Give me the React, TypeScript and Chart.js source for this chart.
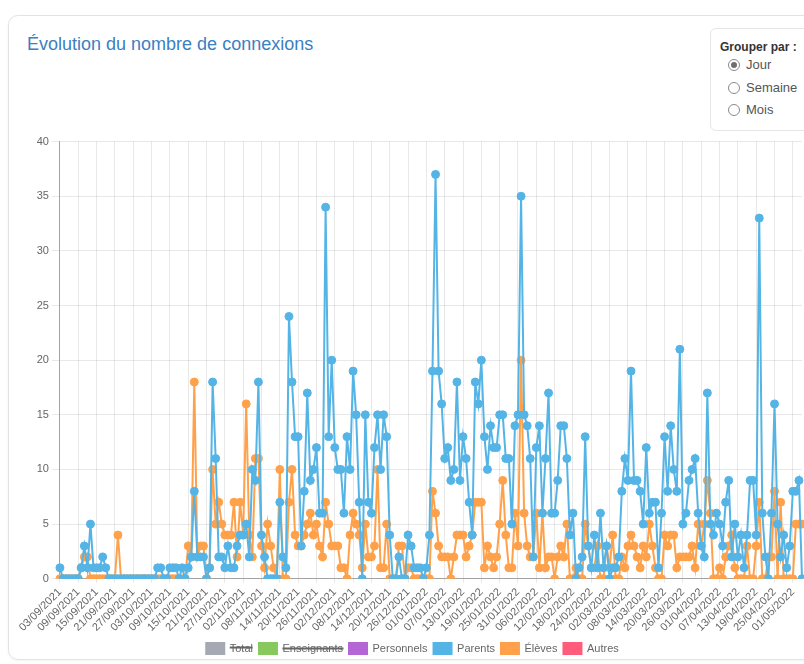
import React, { useEffect, useRef } from "react";
import { Chart, registerables } from "chart.js";

Chart.register(...registerables);

const startYear = 2021;
const startMonth = 8; // September (0-based)
const startDay = 3;
const dayCount = 244;

const dayLabels: string[] = [];
for (let i = 0; i < dayCount; i++) {
  const d = new Date(Date.UTC(startYear, startMonth, startDay + i));
  const dd = String(d.getUTCDate()).padStart(2, "0");
  const mm = String(d.getUTCMonth() + 1).padStart(2, "0");
  dayLabels.push(`${dd}/${mm}/${d.getUTCFullYear()}`);
}

const parents: number[] = [
  1, 0, 0, 0, 0, 0, 0, 1, 3, 1,
  5, 1, 1, 1, 2, 1, 0, 0, 0, 0,
  0, 0, 0, 0, 0, 0, 0, 0, 0, 0,
  0, 0, 1, 1, 0, 0, 1, 1, 1, 0,
  1, 0, 1, 2, 8, 2, 2, 2, 0, 1,
  18, 11, 2, 2, 1, 3, 1, 1, 3, 4,
  4, 5, 2, 10, 9, 18, 4, 2, 0, 0,
  0, 0, 7, 2, 1, 24, 18, 13, 13, 3,
  8, 17, 9, 10, 12, 6, 6, 34, 13, 20,
  12, 10, 10, 6, 13, 10, 19, 15, 7, 0,
  15, 7, 6, 12, 15, 10, 15, 13, 4, 0,
  0, 2, 0, 0, 4, 3, 1, 1, 1, 0,
  1, 4, 19, 37, 19, 16, 11, 12, 9, 10,
  18, 9, 13, 11, 7, 4, 18, 16, 20, 13,
  10, 14, 12, 12, 15, 15, 11, 11, 5, 14,
  15, 35, 15, 14, 11, 2, 12, 14, 6, 11,
  17, 6, 6, 9, 14, 14, 11, 4, 6, 0,
  1, 2, 13, 3, 1, 4, 1, 6, 1, 3,
  0, 1, 1, 2, 8, 11, 9, 19, 9, 9,
  8, 5, 12, 6, 7, 7, 1, 6, 13, 8,
  14, 10, 8, 21, 5, 6, 9, 10, 11, 6,
  3, 2, 17, 5, 4, 6, 5, 3, 7, 9,
  2, 5, 2, 4, 1, 4, 9, 9, 4, 33,
  6, 2, 0, 6, 16, 5, 2, 4, 1, 3,
  8, 8, 9, 0,
];

const eleves: number[] = [
  0, 0, 0, 0, 0, 0, 0, 1, 2, 2,
  0, 0, 0, 0, 0, 0, 0, 0, 0, 4,
  0, 0, 0, 0, 0, 0, 0, 0, 0, 0,
  0, 0, 0, 0, 0, 0, 0, 0, 0, 0,
  0, 0, 3, 2, 18, 2, 3, 3, 0, 1,
  10, 5, 7, 5, 4, 4, 4, 7, 2, 7,
  4, 16, 4, 2, 11, 11, 3, 1, 5, 3,
  1, 0, 10, 0, 0, 7, 10, 4, 3, 3,
  4, 5, 6, 4, 5, 3, 2, 7, 5, 3,
  3, 3, 1, 1, 0, 4, 6, 5, 4, 1,
  5, 2, 2, 3, 10, 1, 1, 5, 0, 0,
  0, 3, 3, 0, 1, 1, 0, 0, 0, 0,
  0, 0, 8, 6, 3, 2, 2, 2, 0, 2,
  4, 4, 4, 2, 3, 4, 7, 7, 7, 1,
  3, 2, 1, 2, 5, 9, 4, 1, 1, 6,
  3, 20, 6, 3, 2, 2, 6, 1, 6, 1,
  2, 2, 0, 2, 3, 2, 5, 0, 0, 1,
  0, 0, 5, 3, 1, 1, 3, 0, 0, 3,
  1, 4, 0, 0, 2, 1, 3, 4, 3, 2,
  1, 3, 2, 5, 3, 1, 0, 0, 4, 3,
  4, 4, 1, 2, 2, 2, 2, 3, 1, 5,
  3, 5, 9, 6, 0, 0, 1, 0, 2, 3,
  4, 1, 0, 0, 0, 3, 0, 0, 3, 7,
  0, 0, 2, 2, 8, 0, 7, 0, 0, 0,
  0, 5, 5, 5,
];

const total: number[] = [];
const enseignants: number[] = [];
const personnels: number[] = [];
const autres: number[] = [];

const seriesNames = ["Total", "Enseignants", "Personnels", "Parents", "Élèves", "Autres"];
const seriesColors = ["#a4a9b3", "#87c95e", "#b466d6", "#55b4e6", "#ffa14a", "#ff5c7c"];
const seriesHidden = [true, true, false, false, false, false];
const seriesData = [total, enseignants, personnels, parents, eleves, autres];

const groupOptions = ["Jour", "Semaine", "Mois"];

function ChartCanvas() {
  const ref = useRef<HTMLCanvasElement | null>(null);
  useEffect(() => {
    if (!ref.current) return;
    Chart.defaults.font.family = '"Liberation Sans", Arial, Helvetica, sans-serif';
    const chart = new Chart(ref.current, {
      type: "line",
      data: {
        labels: dayLabels,
        datasets: seriesNames.map((name, k) => ({
          label: name,
          data: seriesData[k],
          hidden: seriesHidden[k],
          borderColor: seriesColors[k],
          backgroundColor: seriesColors[k],
          pointBackgroundColor: seriesColors[k],
          pointBorderColor: seriesColors[k],
          pointRadius: 4,
          pointBorderWidth: 1,
          borderWidth: 2,
          tension: 0,
          fill: false,
        })),
      },
      options: {
        responsive: false,
        maintainAspectRatio: false,
        animation: false,
        layout: { padding: 0 },
        plugins: {
          legend: {
            position: "bottom",
            labels: {
              boxWidth: 18,
              boxHeight: 11,
              color: "#666",
              font: { size: 11 },
              padding: 6,
            },
          },
          tooltip: { enabled: false },
        },
        scales: {
          x: {
            grid: {
              color: "rgba(0,0,0,0.09)",
              tickLength: 4,
            },
            border: { color: "rgba(0,0,0,0.3)" },
            ticks: {
              autoSkip: false,
              maxRotation: 45,
              minRotation: 45,
              color: "#666",
              font: { size: 11 },
              callback: (_v: any, i: number) => (i % 6 === 0 ? dayLabels[i] : null),
            },
          },
          y: {
            min: 0,
            max: 40,
            grid: { color: "rgba(0,0,0,0.09)" },
            border: { color: "rgba(0,0,0,0.3)" },
            ticks: { stepSize: 5, color: "#666", font: { size: 11 } },
          },
        },
      },
    });
    return () => chart.destroy();
  }, []);
  return (
    <canvas
      ref={ref}
      width={789}
      height={532}
      style={{ position: "absolute", left: 18, top: 132, width: 789, height: 532, display: "block" }}
    />
  );
}

export default function App() {
  return (
    <div
      style={{
        position: "fixed",
        inset: 0,
        overflow: "hidden",
        background: "#fff",
        fontFamily: '"Liberation Sans", Arial, Helvetica, sans-serif',
      }}
    >
      <div
        style={{
          position: "absolute",
          left: 8,
          top: 15,
          width: 830,
          height: 643,
          border: "1px solid #e3e3e3",
          borderRadius: 10,
          boxShadow: "0 1px 3px rgba(0,0,0,0.05)",
        }}
      />
      <div
        style={{
          position: "absolute",
          left: 27,
          top: 34,
          fontSize: 18,
          lineHeight: "20px",
          color: "#3a80c2",
          whiteSpace: "nowrap",
        }}
      >
        Évolution du nombre de connexions
      </div>
      <div
        style={{
          position: "absolute",
          left: 710,
          top: 28,
          width: 110,
          height: 101,
          border: "1px solid #e6e6e6",
          borderRadius: 6,
        }}
      >
        <div
          style={{
            position: "absolute",
            left: 9,
            top: 11,
            fontSize: 12,
            fontWeight: "bold",
            color: "#333",
            whiteSpace: "nowrap",
          }}
        >
          Grouper par :
        </div>
        {groupOptions.map((opt, k) => (
          <div
            key={opt}
            style={{ position: "absolute", left: 17, top: 29 + k * 22.5, height: 14, whiteSpace: "nowrap" }}
          >
            <div
              style={{
                position: "absolute",
                left: 0,
                top: 1,
                width: 10,
                height: 10,
                borderRadius: "50%",
                border: "1px solid #8a8a8a",
                background: "#fff",
              }}
            >
              {k === 0 && (
                <div
                  style={{
                    position: "absolute",
                    left: 2,
                    top: 2,
                    width: 6,
                    height: 6,
                    borderRadius: "50%",
                    background: "#6e6e6e",
                  }}
                />
              )}
            </div>
            <div style={{ position: "absolute", left: 18, top: -1, fontSize: 13, color: "#555" }}>{opt}</div>
          </div>
        ))}
      </div>
      <ChartCanvas />
    </div>
  );
}
